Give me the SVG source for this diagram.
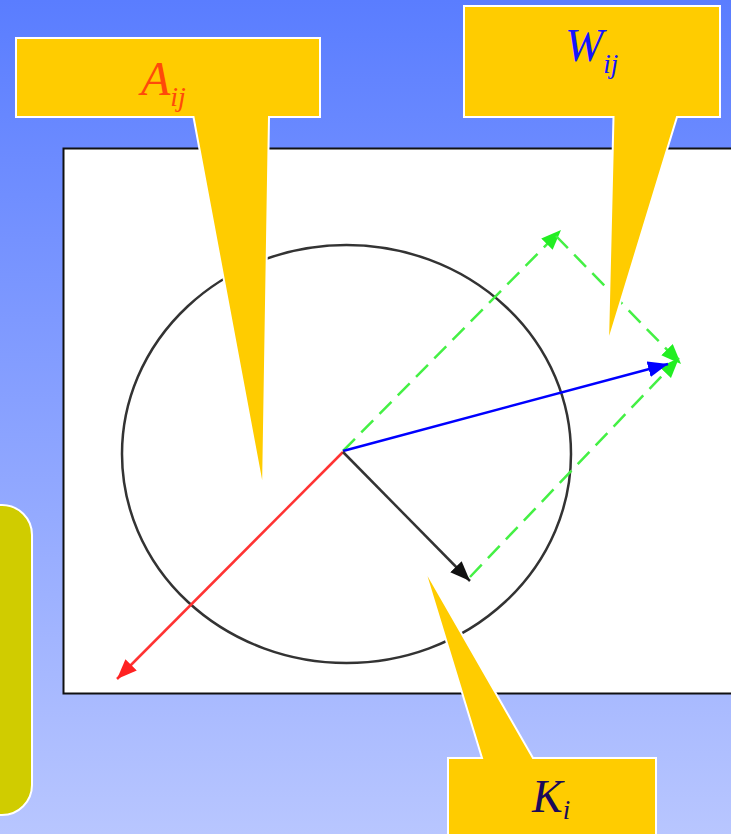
<svg xmlns="http://www.w3.org/2000/svg" width="731" height="834" viewBox="0 0 731 834">
<style>
.callout{fill:#ffcc00;stroke:#ffffff;stroke-width:2;stroke-linejoin:miter}
.lbl{font-family:"Liberation Serif","DejaVu Serif",serif;font-style:italic}
.conn{fill:none;stroke-width:2.5}
.dash{stroke:#44f044;stroke-dasharray:17 9}
</style>
<defs>
<linearGradient id="bg" x1="0" y1="0" x2="0" y2="1">
<stop offset="0" stop-color="#5a7dff"/>
<stop offset="1" stop-color="#b8c6ff"/>
</linearGradient>
<marker id="ar" markerUnits="userSpaceOnUse" markerWidth="22" markerHeight="18" refX="20" refY="8" orient="auto"><path d="M0,0 L20,8 L0,16 z" fill="#ff2222"/></marker>
<marker id="ab" markerUnits="userSpaceOnUse" markerWidth="22" markerHeight="18" refX="20" refY="8" orient="auto"><path d="M0,0 L20,8 L0,16 z" fill="#0000ff"/></marker>
<marker id="ak" markerUnits="userSpaceOnUse" markerWidth="22" markerHeight="18" refX="20" refY="8" orient="auto"><path d="M0,0 L20,8 L0,16 z" fill="#111111"/></marker>
<marker id="ag" markerUnits="userSpaceOnUse" markerWidth="22" markerHeight="18" refX="20" refY="8" orient="auto"><path d="M0,0 L20,8 L0,16 z" fill="#22ee22"/></marker>
</defs>
<rect x="0" y="0" width="731" height="834" fill="url(#bg)"/>
<g id="side-panel">
<rect x="-40" y="505" width="72" height="310" rx="30" ry="30" fill="#d0cc00" stroke="#ffffff" stroke-width="2"/>
</g>
<g id="frame">
<rect x="63.5" y="148.5" width="700" height="545" fill="#ffffff" stroke="#111111" stroke-width="2"/>
</g>
<g id="circle">
<ellipse cx="346.5" cy="454" rx="224.5" ry="209" fill="none" stroke="#333333" stroke-width="2.5"/>
</g>
<g id="connectors">
<line class="conn dash" x1="343" y1="451" x2="561" y2="230" marker-end="url(#ag)"/>
<line class="conn dash" x1="556" y1="236" x2="681" y2="364" marker-end="url(#ag)"/>
<line class="conn dash" x1="470" y1="577" x2="679" y2="358" marker-end="url(#ag)"/>
<line class="conn" stroke="#ff3333" x1="343" y1="452" x2="117" y2="679" marker-end="url(#ar)"/>
<line class="conn" stroke="#0000ff" x1="343" y1="451" x2="668" y2="364" marker-end="url(#ab)"/>
<line class="conn" stroke="#333333" x1="343" y1="452" x2="470" y2="581" marker-end="url(#ak)"/>
</g>
<g id="callout-A">
<path class="callout" d="M16,38 H320 V117 H269 L263,490 L193.5,117 H16 Z"/>
<text class="lbl" x="141" y="95" font-size="48" fill="#ff4a0a">A<tspan font-size="28" dy="11">ij</tspan></text>
</g>
<g id="callout-W">
<path class="callout" d="M464,6 H720 V117 H677 L608,343 L613.5,117 H464 Z"/>
<text class="lbl" x="565" y="61" font-size="46" fill="#1414ff">W<tspan font-size="27" dy="12">ij</tspan></text>
</g>
<g id="callout-K">
<path class="callout" d="M448,758 H482 L424,568 L533,758 H656 V850 H448 Z"/>
<text class="lbl" x="532" y="812" font-size="46" fill="#1a0a5a">K<tspan font-size="27" dy="7">i</tspan></text>
</g>
</svg>
